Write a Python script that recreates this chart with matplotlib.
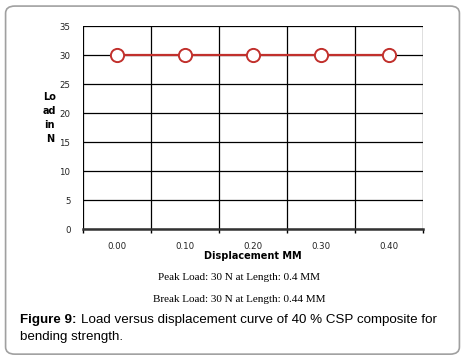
"""Load versus displacement curve, 40 % CSP composite (bending)."""

import matplotlib
matplotlib.use("Agg")
import matplotlib.pyplot as plt
from matplotlib.patches import FancyBboxPatch

# Data
displacement_labels = ["0.00", "0.10", "0.20", "0.30", "0.40"]
load_values = [30, 30, 30, 30, 30]
y_ticks = [0, 5, 10, 15, 20, 25, 30, 35]

line_color = "#c1302c"

fig = plt.figure(figsize=(4.65, 3.57), dpi=100)

# Rounded frame round the figure (kept behind the axes)
frame = FancyBboxPatch((0.012, 0.008), 0.976, 0.975,
                       boxstyle="round,pad=0,rounding_size=0.02",
                       transform=fig.transFigure, facecolor="none",
                       edgecolor="#a0a0a0", linewidth=1.2, zorder=-5)
fig.patches.append(frame)

ax = fig.add_axes([0.1785, 0.3585, 0.731, 0.5686])
ax.patch.set_alpha(0)

n = len(displacement_labels)
xs = list(range(n))
ax.plot(xs, load_values, color=line_color, linewidth=1.6, marker="o",
        markersize=9.5, markerfacecolor="white", markeredgecolor=line_color,
        markeredgewidth=1.4, zorder=3)

ax.set_xlim(-0.5, n - 0.5)
ax.set_ylim(0, 35)

# Category boundaries as vertical grid lines
for b in range(n + 1):
    ax.axvline(b - 0.5, color="black", linewidth=0.9, zorder=1)
for y in y_ticks:
    ax.axhline(y, color="black", linewidth=0.9, zorder=1)

ax.set_xticks([b - 0.5 for b in range(n + 1)])
ax.set_xticklabels([])
ax.set_xticks(xs, minor=True)
ax.set_xticklabels(displacement_labels, minor=True, fontsize=6.2,
                   color="#222222")
ax.tick_params(axis="x", which="major", length=3, width=1, direction="out")
ax.tick_params(axis="x", which="minor", length=0, pad=9)

ax.set_yticks(y_ticks)
ax.set_yticklabels([str(v) for v in y_ticks], fontsize=6.2, color="#222222")
ax.tick_params(axis="y", length=0, pad=9)

for side in ["top", "right", "left"]:
    ax.spines[side].set_visible(False)
ax.spines["bottom"].set_linewidth(1.8)
ax.spines["bottom"].set_color("#333333")

ax.set_xlabel("Displacement MM", fontsize=7, fontweight="bold", labelpad=0)
fig.text(0.107, 0.67, "Lo\nad\nin\nN", fontsize=7, fontweight="bold",
         ha="center", va="center", linespacing=1.5)

fig.text(0.515, 0.224, "Peak Load: 30 N at Length: 0.4 MM",
         family="Liberation Serif", fontsize=8, ha="center", va="center")
fig.text(0.515, 0.162, "Break Load: 30 N at Length: 0.44 MM",
         family="Liberation Serif", fontsize=8, ha="center", va="center")

fig.text(0.043, 0.103, "Figure 9:",
         family="Liberation Sans", fontsize=9.6, fontweight="bold",
         ha="left", va="center")
fig.text(0.175, 0.103,
         "Load versus displacement curve of 40 % CSP composite for",
         family="Liberation Sans", fontsize=9.6, ha="left", va="center")
fig.text(0.043, 0.055, "bending strength.",
         family="Liberation Sans", fontsize=9.6, ha="left", va="center")

fig.savefig("out.png", dpi=100)
plt.close(fig)
